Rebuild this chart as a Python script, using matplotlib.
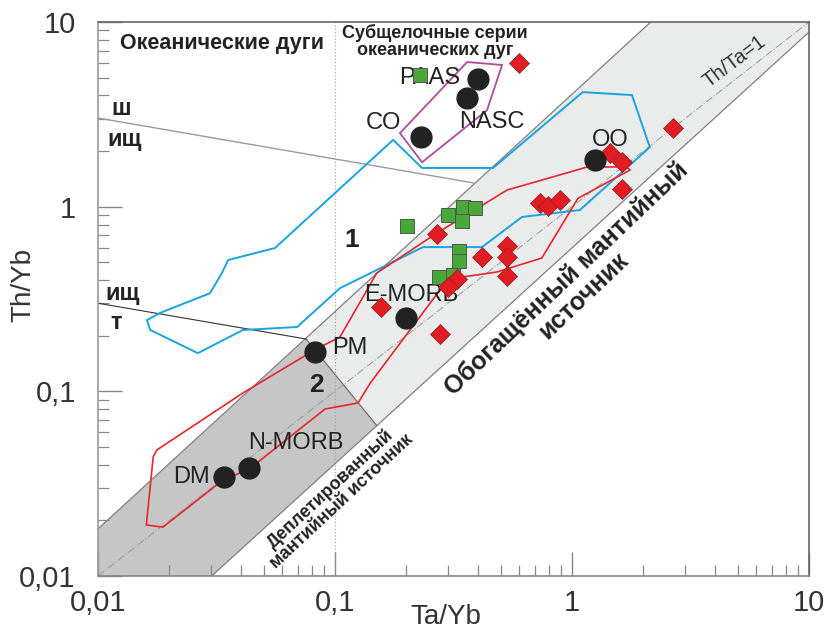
import matplotlib
matplotlib.use("Agg")
import matplotlib.pyplot as plt
import numpy as np
from matplotlib.ticker import FixedLocator, FixedFormatter, LogLocator, NullFormatter

plt.rcParams['font.family'] = ['Liberation Sans', 'DejaVu Sans']

# ---------------- data ----------------
tick_vals = [0.01, 0.1, 1, 10]
tick_labels = ['0,01', '0,1', '1', '10']

# reference compositions (black circles)
ref_names = ['PAAS', 'NASC', 'CO', 'OO', 'E-MORB', 'PM', 'N-MORB', 'DM']
ref_x = [0.40, 0.36, 0.231, 1.25, 0.20, 0.0826, 0.0434, 0.0341]
ref_y = [4.9, 3.89, 2.39, 1.80, 0.25, 0.164, 0.0383, 0.0342]
ref_lab_x = [0.252, 0.459, 0.160, 1.445, 0.2095, 0.1156, 0.0684, 0.0249]
ref_lab_y = [4.97, 2.87, 2.85, 2.30, 0.332, 0.1714, 0.0525, 0.0343]

# green squares
green_x = [0.2287, 0.201, 0.30, 0.346, 0.39, 0.342, 0.333, 0.333, 0.275, 0.315]
green_y = [5.15, 0.79, 0.90, 0.99, 0.98, 0.84, 0.577, 0.509, 0.418, 0.427]

# red diamonds
red_x = [0.597, 1.445, 1.62, 2.67, 1.62, 0.733, 0.795, 0.889, 0.270, 0.416,
         0.533, 0.530, 0.530, 0.326, 0.30, 0.156, 0.277]
red_y = [5.97, 1.95, 1.75, 2.65, 1.24, 1.05, 1.01, 1.08, 0.711, 0.536,
         0.612, 0.536, 0.42, 0.404, 0.368, 0.287, 0.204]

# red field outline
redpoly_x = [0.0160, 0.0188, 0.0337, 0.0434, 0.0908, 0.125, 0.141, 0.300, 0.483,
             0.746, 1.06, 1.76, 1.69, 1.16, 0.532, 0.269, 0.150, 0.127, 0.105,
             0.0824, 0.0409, 0.0177, 0.0171]
redpoly_y = [0.0189, 0.0184, 0.0331, 0.0379, 0.0802, 0.0865, 0.111, 0.405, 0.443,
             0.527, 1.11, 1.58, 1.64, 1.64, 1.23, 0.719, 0.437, 0.301, 0.197,
             0.168, 0.098, 0.0481, 0.0441]

# blue field outline
bluepoly_x = [0.0354, 0.0558, 0.176, 0.233, 0.464, 1.11, 1.79, 2.13, 1.08, 0.615,
              0.417, 0.235, 0.105, 0.0692, 0.0409, 0.0264, 0.0166, 0.0161, 0.0183,
              0.0297, 0.0333]
bluepoly_y = [0.514, 0.597, 2.30, 1.62, 1.62, 4.17, 4.02, 2.10, 0.959, 0.879,
              0.604, 0.604, 0.362, 0.223, 0.215, 0.161, 0.215, 0.243, 0.266,
              0.340, 0.436]

# magenta field (subalkaline oceanic arc series)
magpoly_x = [0.188, 0.361, 0.507, 0.438, 0.233]
magpoly_y = [2.50, 6.07, 5.85, 3.33, 1.74]

# mantle array boundaries
band_up_x = [0.01, 2.15]
band_up_y = [0.018, 10]
band_lo_x = [0.0302, 10]
band_lo_y = [0.01, 8.82]
# depleted-source field vertices
dep_x = [0.01, 0.0755, 0.150, 0.0302, 0.01]
dep_y = [0.018, 0.192, 0.0653, 0.01, 0.01]
# field boundary lines
line1_x = [0.01, 0.39]
line1_y = [3.02, 1.34]
line2_x = [0.01, 0.0755]
line2_y = [0.30, 0.192]

# ---------------- figure ----------------
fig = plt.figure(figsize=(8.24, 6.30), dpi=100)
ax = fig.add_axes([0.1189, 0.0857, 0.8629, 0.8794])
ax.set_xscale('log')
ax.set_yscale('log')
ax.set_xlim(0.01, 10)
ax.set_ylim(0.01, 10)

# light band
band_x = [band_up_x[0], band_up_x[1], 10, band_lo_x[1], band_lo_x[0], 0.01]
band_y = [band_up_y[0], band_up_y[1], 10, band_lo_y[1], band_lo_y[0], 0.01]
ax.fill(band_x, band_y, color='#eaebeb', zorder=1, lw=0)
ax.fill(dep_x, dep_y, color='#c6c6c6', zorder=1.2, lw=0)
ax.plot(band_up_x, band_up_y, color='#808080', lw=0.9, zorder=1.5)
ax.plot(band_lo_x, band_lo_y, color='#808080', lw=0.9, zorder=1.5)
ax.plot(dep_x[1:3], dep_y[1:3], color='#707070', lw=0.9, zorder=1.5)
ax.plot([0.01, 10], [0.01, 10], color='#9a9a9a', lw=0.7, ls=(0, (8, 2, 1, 2)), zorder=1.6)
ax.axvline(0.1, color='#9a9a9a', lw=0.8, ls=(0, (1, 2)), zorder=1.6)
ax.plot(line1_x, line1_y, color='#9a9a9a', lw=1.0, zorder=1.7)
ax.plot(line2_x, line2_y, color='#333333', lw=0.8, zorder=1.7)

# fields
ax.fill(bluepoly_x, bluepoly_y, fill=False, edgecolor='#1aa3e0', lw=1.4, zorder=2)
ax.fill(redpoly_x, redpoly_y, fill=False, edgecolor='#e8262c', lw=1.2, zorder=2.1)
ax.fill(magpoly_x, magpoly_y, fill=False, edgecolor='#b04c9c', lw=1.3, zorder=2.1)

# labels of reference points
for n, lx, ly in zip(ref_names, ref_lab_x, ref_lab_y):
    ax.text(lx, ly, n, fontsize=17, color='#222222', ha='center', va='center', zorder=3)

# markers
ax.plot(green_x, green_y, 's', ms=10, mfc='#4aa73a', mec='#4d5a4a', mew=0.7, zorder=4)
ax.plot(red_x, red_y, 'D', ms=10, mfc='#e31b23', mec='#8a2020', mew=0.5, zorder=4.5)
ax.plot(ref_x, ref_y, 'o', ms=15, mfc='#222222', mec='#222222', zorder=5)

# text annotations
ax.text(0.0124, 7.6, 'Океанические дуги', fontsize=15.5, fontweight='bold', ha='left', va='center', color='#222222', zorder=6)
ax.text(0.264, 7.8, 'Субщелочные серии\nокеанических дуг', fontsize=13, ha='center', va='center',
        color='#222222', linespacing=1.0, fontweight='semibold', zorder=6)
ax.text(0.118, 0.659, '1', fontsize=19, fontweight='bold', ha='center', va='center', color='#222222', zorder=6)
ax.text(0.0839, 0.108, '2', fontsize=19, fontweight='bold', ha='center', va='center', color='#222222', zorder=6)
ax.text(0.0114, 3.42, 'ш', fontsize=17, fontweight='bold', ha='left', va='center', color='#222222', zorder=6)
ax.text(0.0110, 2.30, 'ищ', fontsize=17, fontweight='bold', ha='left', va='center', color='#222222', zorder=6)
ax.text(0.0107, 0.340, 'ищ', fontsize=17, fontweight='bold', ha='left', va='center', color='#222222', zorder=6)
ax.text(0.0113, 0.237, 'т', fontsize=17, fontweight='bold', ha='left', va='center', color='#222222', zorder=6)
ax.text(4.83, 6.07, 'Th/Ta=1', fontsize=14.5, rotation=37, rotation_mode='anchor', ha='center', va='center',
        color='#333333', zorder=6)
ax.text(1.03, 0.367, 'Обогащённый мантийный\nисточник', fontsize=18, fontweight='bold', rotation=43.6,
        rotation_mode='anchor', ha='center', va='center', color='#222222', linespacing=1.0, zorder=6)
ax.text(0.101, 0.0275, 'Деплетированный\nмантийный источник', fontsize=13, fontweight='bold', rotation=43,
        rotation_mode='anchor', ha='center', va='center', color='#222222', linespacing=1.0, zorder=6)

# axes styling
ax.xaxis.set_major_locator(FixedLocator(tick_vals))
ax.xaxis.set_major_formatter(FixedFormatter(tick_labels))
ax.yaxis.set_major_locator(FixedLocator(tick_vals))
ax.yaxis.set_major_formatter(FixedFormatter(tick_labels))
ax.xaxis.set_minor_locator(LogLocator(base=10, subs=np.arange(2, 10)))
ax.yaxis.set_minor_locator(LogLocator(base=10, subs=np.arange(2, 10)))
ax.xaxis.set_minor_formatter(NullFormatter())
ax.yaxis.set_minor_formatter(NullFormatter())
ax.tick_params(which='major', direction='in', length=17, width=1.0, color='#888888',
               labelsize=21, labelcolor='#333333')
ax.tick_params(axis='x', which='major', pad=9)
ax.tick_params(axis='y', which='major', pad=16)
ax.tick_params(which='minor', direction='in', length=8, width=0.9, color='#888888')
for s in ax.spines.values():
    s.set_color('#666666')
    s.set_linewidth(1.2)
ax.spines['left'].set_color('#999999')
ax.spines['bottom'].set_color('#888888')

ax.set_xlabel('Ta/Yb', fontsize=20, color='#333333')
ax.set_ylabel('Th/Yb', fontsize=20, color='#333333')
ax.xaxis.set_label_coords(0.4895, -0.074)
ax.xaxis.label.set_verticalalignment('center')
ax.yaxis.set_label_coords(-0.105, 0.525)
ax.yaxis.label.set_verticalalignment('center')

fig.savefig('out.png', dpi=100)
